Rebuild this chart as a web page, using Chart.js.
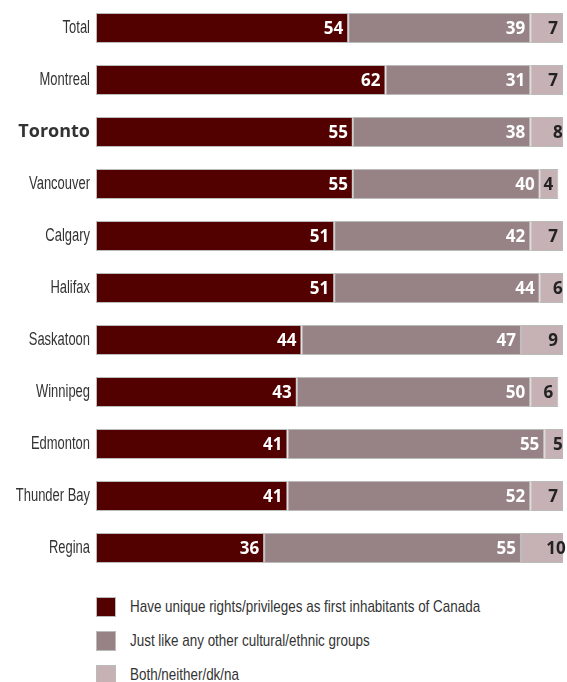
<!DOCTYPE html>
<html lang="en">
<head>
<meta charset="UTF-8">
<title>Aboriginal peoples: unique rights or like any other group</title>
<script src="https://cdn.jsdelivr.net/npm/chart.js"></script>
<style>
    body {
        margin: 0;
        background: #fff;
        font-family: 'Liberation Sans', sans-serif;
    }
    .wrap {
        position: relative;
        width: 567px;
        height: 682px;
        overflow: hidden;
    }
    .chartBox {
        position: absolute;
        left: 0;
        top: 0;
        width: 567px;
        height: 576px;
    }
    .legend {
        position: absolute;
        left: 96px;
        top: 597px;
    }
    .legend div {
        display: flex;
        align-items: center;
        height: 20px;
        margin-bottom: 14px;
        font-size: 17px;
        color: #333;
        white-space: nowrap;
    }
    .legend span {
        display: inline-block;
        width: 20px;
        height: 20px;
        margin-right: 14px;
        box-sizing: border-box;
        border: 1px solid #bbb;
        flex: none;
    }
    /* narrow face like the original condensed font */
    .legend i {
        font-style: normal;
        display: inline-block;
        transform: scaleX(0.79);
        transform-origin: left center;
    }
</style>
</head>
<body>
<div class="wrap">
    <div class="chartBox"><canvas id="chart"></canvas></div>
    <div class="legend" id="legend"></div>
</div>
<script>
    // categories and values (percent)
    const cities = ['Total', 'Montreal', 'Toronto', 'Vancouver', 'Calgary', 'Halifax',
        'Saskatoon', 'Winnipeg', 'Edmonton', 'Thunder Bay', 'Regina'];
    const uniqueRights = [54, 62, 55, 55, 51, 51, 44, 43, 41, 41, 36];
    const likeOthers = [39, 31, 38, 40, 42, 44, 47, 50, 55, 52, 55];
    const bothNeither = [7, 7, 8, 4, 7, 6, 9, 6, 5, 7, 10];

    const seriesNames = [
        'Have unique rights/privileges as first inhabitants of Canada',
        'Just like any other cultural/ethnic groups',
        'Both/neither/dk/na'
    ];
    const colors = ['#520000', '#978386', '#c6b1b5'];
    const labelColors = ['#fff', '#fff', '#222'];
    const boldCity = 'Toronto';

    // numbers inside the bars + condensed city names
    const valueLabels = {
        id: 'valueLabels',
        afterDatasetsDraw(chart) {
            const c = chart.ctx;
            c.save();
            c.font = 'bold 17px "Open Sans", sans-serif';
            c.textBaseline = 'middle';
            c.textAlign = 'right';
            chart.data.datasets.forEach((ds, i) => {
                const meta = chart.getDatasetMeta(i);
                meta.data.forEach((bar, j) => {
                    c.fillStyle = labelColors[i];
                    const pad = ds.data[j] >= 10 && i === 2 ? 2 : 5;
                    c.fillText(ds.data[j], bar.x - pad, bar.y + 1);
                });
            });
            c.restore();

            // canvas has no condensed face here, so squeeze the text
            const y = chart.scales.y;
            chart.data.labels.forEach((name, i) => {
                c.save();
                c.translate(y.right - 6, y.getPixelForValue(i));
                c.textAlign = 'right';
                c.textBaseline = 'middle';
                c.fillStyle = '#333';
                if (name === boldCity) {
                    c.font = 'bold 18px "Open Sans", sans-serif';
                } else {
                    c.scale(0.72, 1);
                    c.font = '18px "Liberation Sans", sans-serif';
                }
                c.fillText(name, 0, 0);
                c.restore();
            });
        }
    };

    const chart = new Chart(document.getElementById('chart'), {
        type: 'bar',
        data: {
            labels: cities,
            datasets: [uniqueRights, likeOthers, bothNeither].map((d, i) => ({
                label: seriesNames[i],
                data: d,
                backgroundColor: colors[i],
                borderColor: '#bbb',
                borderWidth: 1,
                borderSkipped: false,
                categoryPercentage: 0.58,
                barPercentage: 1
            }))
        },
        options: {
            indexAxis: 'y',
            responsive: true,
            maintainAspectRatio: false,
            animation: false,
            layout: { padding: { top: 2, bottom: 2, right: 4, left: 0 } },
            plugins: {
                legend: { display: false },
                tooltip: { enabled: false }
            },
            scales: {
                x: {
                    stacked: true,
                    display: false,
                    min: 0,
                    max: 100
                },
                y: {
                    stacked: true,
                    grid: { display: false, drawTicks: false },
                    border: { display: false },
                    afterFit: s => { s.width = 96; },
                    ticks: {
                        display: false,
                        font: { size: 17 }
                    }
                }
            }
        },
        plugins: [valueLabels]
    });

    // legend below the chart
    const legend = document.getElementById('legend');
    seriesNames.forEach((name, i) => {
        const row = document.createElement('div');
        row.innerHTML = '<span style="background:' + colors[i] + '"></span><i>' + name + '</i>';
        legend.appendChild(row);
    });
</script>
</body>
</html>
